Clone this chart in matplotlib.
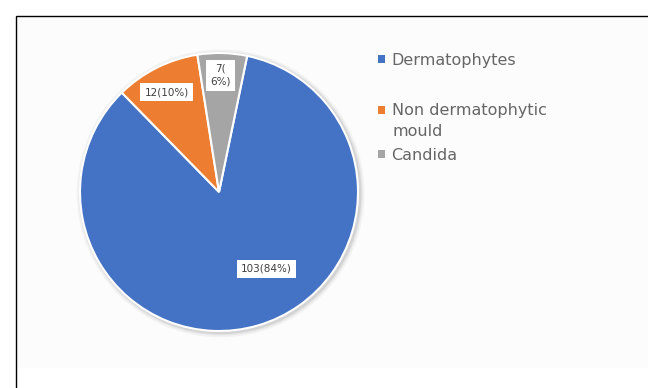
import numpy as np
import matplotlib
matplotlib.use("Agg")
import matplotlib.pyplot as plt
from matplotlib.patches import Rectangle, Circle

# --- Data ---
categories = ["Dermatophytes", "Non dermatophytic\nmould", "Candida"]
counts = [103, 12, 7]
pct_labels = ["84%", "10%", "6%"]
colors = ["#4472C4", "#ED7D31", "#A5A5A5"]

W, H = 648, 388
fig = plt.figure(figsize=(W / 100, H / 100), dpi=100)
fig.patch.set_facecolor("white")

# chart area + outer frame
fig.patches.append(Rectangle((17 / W, 20 / H), 1, (H - 37) / H, transform=fig.transFigure,
                             facecolor="#fcfcfc", edgecolor="none", zorder=-2))
fig.patches.append(Rectangle((16 / W, -0.1), 1.2, (H - 16) / H + 0.1, transform=fig.transFigure,
                             facecolor="none", edgecolor="black", lw=1.0, zorder=-1))

# pie axes: centre (219,192) px, radius 139 px
cx, cy, r = 219, 192, 139
pad = 1.06
ax = fig.add_axes([(cx - r * pad) / W, (H - cy - r * pad) / H, 2 * r * pad / W, 2 * r * pad / H])
ax.set_facecolor("none")
ax.set_zorder(2)

# soft shadow
for rad, a in [(1.035, 0.10), (1.022, 0.15), (1.012, 0.22)]:
    ax.add_patch(Circle((0.012, -0.01), rad, facecolor="#9a9a9a", edgecolor="none", alpha=a, zorder=0))

wedges, _ = ax.pie(counts, colors=colors, startangle=78.3, counterclock=False,
                   radius=1.0, wedgeprops=dict(edgecolor="white", linewidth=1.5, zorder=2))

# data labels (distance from centre, angle shift in degrees)
label_pos = [(0.65, 15.5), (0.81, 1.0), (0.84, 0.5)]
label_txt = [f"{counts[0]}({pct_labels[0]})", f"{counts[1]}({pct_labels[1]})",
             f"{counts[2]}(\n{pct_labels[2]})"]
for w, txt, (d, shift) in zip(wedges, label_txt, label_pos):
    ang = np.deg2rad((w.theta1 + w.theta2) / 2 + shift)
    ax.text(d * np.cos(ang), d * np.sin(ang), txt, ha="center", va="center",
            fontsize=7.5, color="#404040", linespacing=1.35, zorder=5,
            bbox=dict(facecolor="white", edgecolor="none", pad=3))

ax.set_xlim(-pad, pad)
ax.set_ylim(-pad, pad)
ax.set_aspect("auto")
ax.axis("off")

# legend: one entry per block, key aligned with first text line
leg_y = [60, 111, 155]
for w, lab, y in zip(wedges, categories, leg_y):
    first, *rest = lab.split("\n")
    leg = fig.legend([w], [first], loc="center left", bbox_to_anchor=(378 / W, 1 - y / H),
                     frameon=False, fontsize=11.5, handlelength=0.45, handleheight=0.45,
                     handletextpad=0.4, borderaxespad=0, borderpad=0)
    leg.get_texts()[0].set_color("#666666")
    leg.legend_handles[0].set_edgecolor("none")
    for i, extra in enumerate(rest):
        fig.text(393 / W, 1 - (y + 20 * (i + 1)) / H, extra, fontsize=11.5,
                 color="#666666", va="center", ha="left")

fig.savefig("out.png", dpi=100)
